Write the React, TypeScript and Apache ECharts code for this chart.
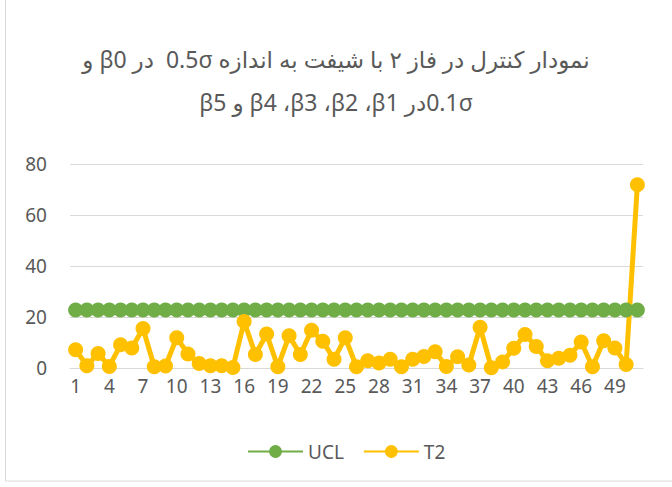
import React, { useEffect, useRef } from "react";
import * as echarts from "echarts";

const titleLine1 = "نمودار کنترل در فاز ۲ با شیفت به اندازه 0.5σ  در β0 و";
const titleLine2 = "0.1σدر β1،\u200F β2،\u200F β3،\u200F β4 و β5";

const categories = [
  "1", "2", "3", "4", "5", "6", "7", "8", "9", "10",
  "11", "12", "13", "14", "15", "16", "17", "18", "19", "20",
  "21", "22", "23", "24", "25", "26", "27", "28", "29", "30",
  "31", "32", "33", "34", "35", "36", "37", "38", "39", "40",
  "41", "42", "43", "44", "45", "46", "47", "48", "49", "50", "51",
];

const uclValues = [
  22.7, 22.7, 22.7, 22.7, 22.7, 22.7, 22.7, 22.7, 22.7, 22.7,
  22.7, 22.7, 22.7, 22.7, 22.7, 22.7, 22.7, 22.7, 22.7, 22.7,
  22.7, 22.7, 22.7, 22.7, 22.7, 22.7, 22.7, 22.7, 22.7, 22.7,
  22.7, 22.7, 22.7, 22.7, 22.7, 22.7, 22.7, 22.7, 22.7, 22.7,
  22.7, 22.7, 22.7, 22.7, 22.7, 22.7, 22.7, 22.7, 22.7, 22.7, 22.7,
];

const t2Values = [
  7.2, 0.9, 5.7, 0.6, 9.1, 7.8, 15.5, 0.5, 0.8, 11.9,
  5.5, 1.8, 0.9, 0.9, 0.2, 18.2, 5.3, 13.3, 0.5, 12.6,
  5.3, 14.8, 10.5, 3.4, 11.9, 0.5, 2.8, 2.0, 3.4, 0.5,
  3.4, 4.5, 6.4, 0.6, 4.4, 1.2, 16.0, 0.1, 2.4, 7.7,
  13.1, 8.4, 2.8, 3.8, 5.0, 10.2, 0.5, 10.7, 7.8, 1.4, 71.9,
];

const yTicks = [0, 20, 40, 60, 80];

const TEXT = "#595959";
const GRIDC = "#d9d9d9";
const FONT = "'Noto Sans', 'DejaVu Sans', sans-serif";

export default function App() {
  const ref = useRef<HTMLDivElement>(null);
  useEffect(() => {
    if (!ref.current) return;
    const chart = echarts.init(ref.current, undefined, { renderer: "svg" });
    chart.setOption({
      animation: false,
      backgroundColor: "#ffffff",
      textStyle: { fontFamily: FONT },
      title: [
        {
          text: "\u202B" + titleLine1 + "\u202C",
          left: "center",
          top: 39,
          textStyle: { color: TEXT, fontSize: 23, fontWeight: "normal", fontFamily: FONT, lineHeight: 30 },
        },
        {
          text: "\u202B" + titleLine2 + "\u202C",
          left: "center",
          top: 82,
          textStyle: { color: TEXT, fontSize: 23, fontWeight: "normal", fontFamily: FONT, lineHeight: 30 },
        },
      ],
      graphic: [
        {
          type: "rect",
          shape: { x: 5.5, y: -5, width: 700, height: 486 },
          style: { fill: "none", stroke: GRIDC, lineWidth: 1 },
          silent: true,
        },
      ],
      legend: {
        top: 437,
        left: 242,
        itemWidth: 55,
        itemHeight: 16,
        itemGap: 19,
        textStyle: { color: TEXT, fontSize: 19, fontFamily: FONT },
        data: ["UCL", "T2"],
      },
      grid: { left: 70, right: 29, top: 164, bottom: 119 },
      xAxis: {
        type: "category",
        data: categories,
        boundaryGap: true,
        axisLine: { lineStyle: { color: GRIDC, width: 1 } },
        axisTick: { show: false },
        axisLabel: { interval: 2, color: TEXT, fontSize: 19, margin: 8, fontFamily: FONT },
      },
      yAxis: {
        type: "value",
        min: yTicks[0],
        max: yTicks[yTicks.length - 1],
        interval: 20,
        axisLine: { show: false },
        axisTick: { show: false },
        splitLine: { lineStyle: { color: GRIDC, width: 1 } },
        axisLabel: { color: TEXT, fontSize: 19, margin: 23, fontFamily: FONT },
      },
      series: [
        {
          name: "UCL",
          type: "line",
          data: uclValues,
          symbol: "circle",
          symbolSize: 15,
          showAllSymbol: true,
          itemStyle: { color: "#70ad47" },
          lineStyle: { color: "#70ad47", width: 5 },
        },
        {
          name: "T2",
          type: "line",
          data: t2Values,
          symbol: "circle",
          symbolSize: 15,
          showAllSymbol: true,
          itemStyle: { color: "#ffc000" },
          lineStyle: { color: "#ffc000", width: 5 },
        },
      ],
    });
    return () => chart.dispose();
  }, []);
  return (
    <div style={{ position: "absolute", left: 0, top: 0, width: 672, height: 487 }}>
      <div ref={ref} style={{ width: 672, height: 487 }} />
    </div>
  );
}
